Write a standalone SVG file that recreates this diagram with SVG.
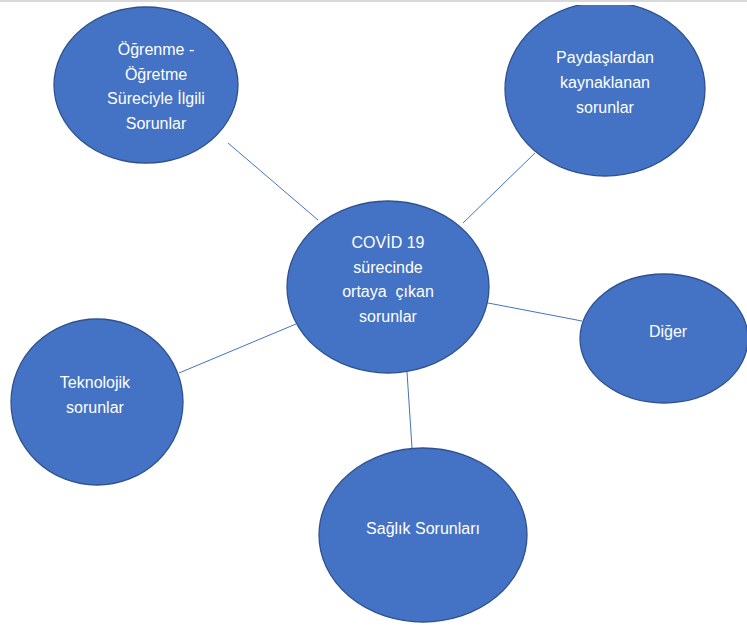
<svg xmlns="http://www.w3.org/2000/svg" width="747" height="626" viewBox="0 0 747 626">
<style>
.n{fill:#4472C4;stroke:#2F528F;stroke-width:1.3}
.t{font-family:"Liberation Sans",Arial,sans-serif;font-size:16px;fill:#ffffff;text-anchor:middle}
.c line{stroke:#4472C4;stroke-width:1}
</style>
<defs>
<clipPath id="topclip"><rect x="0" y="5" width="747" height="621"/></clipPath>
</defs>
<rect x="0" y="0" width="747" height="626" fill="#ffffff"/>
<rect x="0" y="0" width="747" height="2" fill="#d9d9d9"/>
<g class="c" id="connectors">
<line x1="228" y1="143" x2="318" y2="220"/>
<line x1="535" y1="153" x2="463" y2="223"/>
<line x1="488" y1="303" x2="582" y2="321"/>
<line x1="296" y1="324" x2="179" y2="373"/>
<line x1="407" y1="372" x2="412" y2="448"/>
</g>
<g id="n-ogrenme">
<ellipse class="n" cx="146" cy="85" rx="92" ry="78"/>
<text class="t" x="156" y="55">Öğrenme -</text>
<text class="t" x="156" y="80">Öğretme</text>
<text class="t" x="156" y="104">Süreciyle İlgili</text>
<text class="t" x="156" y="129">Sorunlar</text>
</g>
<g id="n-paydas">
<ellipse class="n" cx="605" cy="89" rx="100" ry="87" clip-path="url(#topclip)"/>
<text class="t" x="605" y="63">Paydaşlardan</text>
<text class="t" x="605" y="88">kaynaklanan</text>
<text class="t" x="605" y="113">sorunlar</text>
</g>
<g id="n-covid">
<ellipse class="n" cx="388" cy="287" rx="101" ry="86"/>
<text class="t" x="388" y="248">COVİD 19</text>
<text class="t" x="388" y="273">sürecinde</text>
<text class="t" x="388" y="297" xml:space="preserve">ortaya  çıkan</text>
<text class="t" x="388" y="322">sorunlar</text>
</g>
<g id="n-diger">
<ellipse class="n" cx="664" cy="338.5" rx="84" ry="64.5"/>
<text class="t" x="668" y="337">Diğer</text>
</g>
<g id="n-teknolojik">
<ellipse class="n" cx="97" cy="402" rx="86" ry="83"/>
<text class="t" x="95" y="388">Teknolojik</text>
<text class="t" x="95" y="413">sorunlar</text>
</g>
<g id="n-saglik">
<ellipse class="n" cx="423" cy="535" rx="104" ry="87"/>
<text class="t" x="423" y="534">Sağlık Sorunları</text>
</g>
</svg>
